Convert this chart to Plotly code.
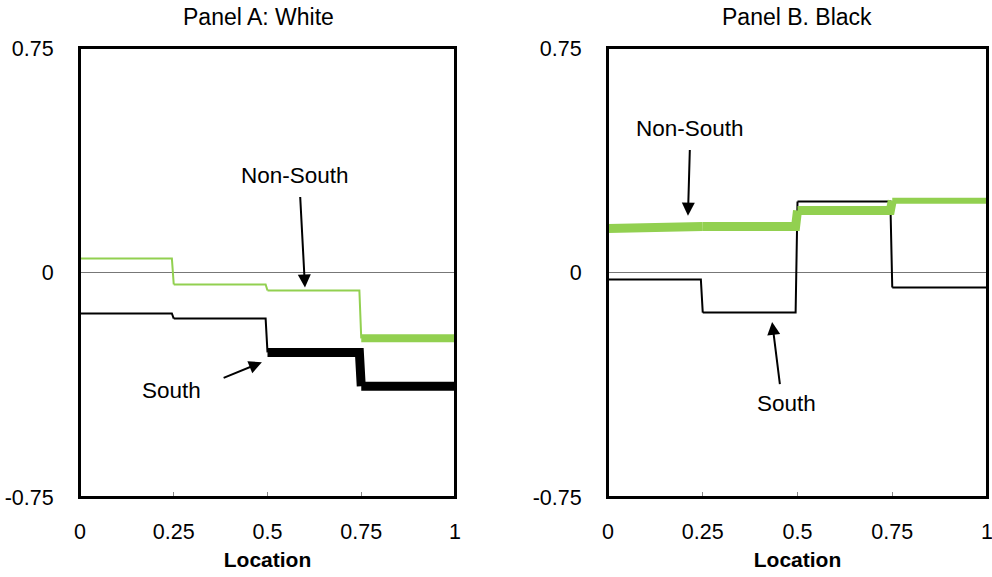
import plotly.graph_objects as go

# Data
seg_start = [0.0, 0.25, 0.5, 0.75]
seg_end = [0.245, 0.495, 0.745, 1.0]
white_nonsouth = [0.047, -0.04, -0.06, -0.22]
white_south = [-0.137, -0.154, -0.267, -0.38]
black_nonsouth = [0.147, 0.154, 0.207, 0.24]
black_south = [-0.023, -0.134, 0.237, -0.05]
# line widths per segment (thick = significant)
white_nonsouth_w = [2, 2, 2, 8]
white_south_w = [2, 2, 9, 9]
black_nonsouth_w = [9, 9, 9, 6]
black_south_w = [2, 2, 2, 2]

GREEN = "#92D050"
BLACK = "#000000"

fig = go.Figure()

def add_steps(vals, widths, color, xa, ya):
    n = len(vals)
    for i in range(n):
        xs = [seg_start[i], seg_end[i]]
        ys = [vals[i], vals[i]]
        if i + 1 < n:
            xs.append(seg_start[i + 1])
            ys.append(vals[i + 1])
        fig.add_trace(go.Scatter(x=xs, y=ys, mode="lines",
                                 line=dict(color=color, width=widths[i]),
                                 xaxis=xa, yaxis=ya, showlegend=False,
                                 hoverinfo="skip"))

add_steps(white_nonsouth, white_nonsouth_w, GREEN, "x", "y")
add_steps(white_south, white_south_w, BLACK, "x", "y")
add_steps(black_south, black_south_w, BLACK, "x2", "y2")
add_steps(black_nonsouth, black_nonsouth_w, GREEN, "x2", "y2")

W, H = 992, 577
def px_x(p):
    return p / W
def px_y(p):
    return 1 - p / H

ydom = [px_y(497), px_y(48)]
FAM = "Liberation Sans, Arial, sans-serif"
tfont = dict(family=FAM, size=21.5, color="black")
lfont = dict(family=FAM, size=21, color="black")
afont = dict(family=FAM, size=22.5, color="black")
hfont = dict(family=FAM, size=23, color="black")

xcommon = dict(range=[0, 1], tickvals=[0, 0.25, 0.5, 0.75, 1],
               ticktext=["0", "0.25", "0.5", "0.75", "1"],
               showline=True, mirror=True, linecolor="black", linewidth=2,
               showgrid=False, zeroline=False, ticks="inside", ticklen=5,
               tickcolor="#888", tickfont=tfont, ticklabelstandoff=14,
               ticklabeloverflow="allow", automargin=False,
               title=dict(text="<b>Location</b>", font=lfont, standoff=10))
ycommon = dict(range=[-0.75, 0.75], tickvals=[-0.75, 0, 0.75],
               ticktext=["-0.75", "0", "0.75"],
               showline=True, mirror=True, linecolor="black", linewidth=2,
               showgrid=False, zeroline=True, zerolinecolor="#777",
               zerolinewidth=1, ticks="", tickfont=tfont,
               ticklabelstandoff=20, ticklabeloverflow="allow",
               automargin=False)

fig.update_layout(
    width=W, height=H, margin=dict(l=0, r=0, t=0, b=0),
    plot_bgcolor="white", paper_bgcolor="white", font=tfont,
    xaxis=dict(domain=[px_x(80), px_x(455)], anchor="y", **xcommon),
    yaxis=dict(domain=ydom, anchor="x", **ycommon),
    xaxis2=dict(domain=[px_x(608), px_x(987)], anchor="y2", **xcommon),
    yaxis2=dict(domain=ydom, anchor="x2", **ycommon),
)

# plot frames
for xr, yr in [("x domain", "y domain"), ("x2 domain", "y2 domain")]:
    fig.add_shape(type="rect", xref=xr, yref=yr, x0=0, x1=1, y0=0, y1=1,
                  line=dict(color="black", width=2), layer="above")

titles = [("Panel A: White", 258), ("Panel B. Black", 797)]
anns = []
for t, px in titles:
    anns.append(dict(text=t, x=px_x(px), y=px_y(17), xref="paper", yref="paper",
                     showarrow=False, font=hfont, xanchor="center", yanchor="middle"))

def arrow(xr, yr, tx, ty, hx, hy):
    return dict(x=hx, y=hy, ax=tx, ay=ty, xref=xr, yref=yr, axref=xr, ayref=yr,
                text="", showarrow=True, arrowhead=2, arrowsize=1.3,
                arrowwidth=2, arrowcolor="black")

def label(xr, yr, x, y, t):
    return dict(x=x, y=y, xref=xr, yref=yr, text=t, showarrow=False, font=afont,
                xanchor="center", yanchor="middle")

anns += [
    label("x", "y", 0.573, 0.324, "Non-South"),
    arrow("x", "y", 0.587, 0.257, 0.6, -0.05),
    label("x", "y", 0.245, -0.394, "South"),
    arrow("x", "y", 0.379, -0.354, 0.485, -0.30),
    label("x2", "y2", 0.216, 0.481, "Non-South"),
    arrow("x2", "y2", 0.216, 0.414, 0.211, 0.19),
    label("x2", "y2", 0.472, -0.438, "South"),
    arrow("x2", "y2", 0.454, -0.378, 0.433, -0.165),
]
fig.update_layout(annotations=anns)

fig.write_html(
    "out.html",
    config={"displayModeBar": False},
    post_script="document.body.style.margin='0';document.body.style.overflow='hidden';",
)
